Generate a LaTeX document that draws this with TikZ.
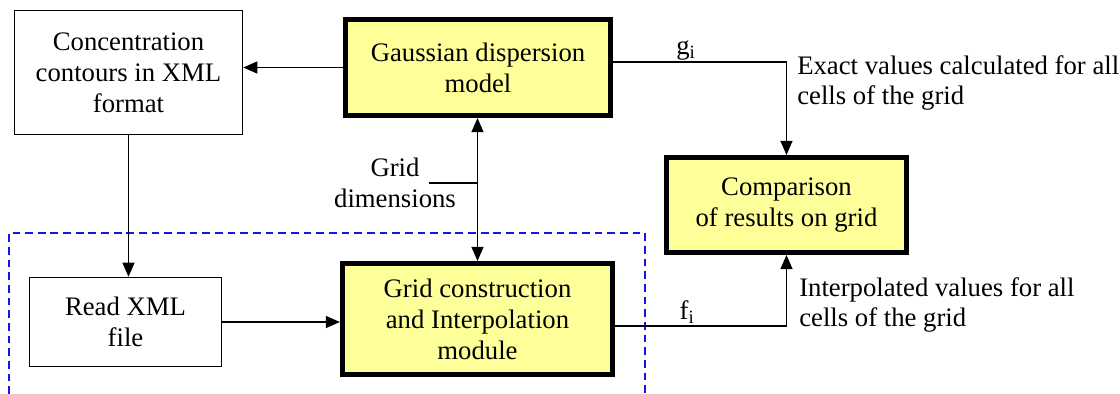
\documentclass[tikz,border=0pt]{standalone}
\usepackage{fontspec}
\setmainfont{Liberation Serif}
\usetikzlibrary{arrows.meta}

\definecolor{modyellow}{RGB}{255,255,153}
\definecolor{zoneblue}{RGB}{20,20,235}

\tikzset{
    plainbox/.style={draw, line width=1pt, fill=white, align=center, inner sep=0pt},
    modbox/.style={draw, line width=3.6pt, fill=modyellow, align=center, inner sep=0pt},
    flow/.style={line width=1pt, -{Triangle[length=10pt, width=8.5pt]}},
    zone/.style={draw=zoneblue, line width=0.9pt, dash pattern=on 5.5pt off 3.5pt}
}

\begin{document}
\begin{tikzpicture}[x=0.025cm, y=-0.025cm, font=\fontsize{19}{22}\selectfont]
    \useasboundingbox (0,0) rectangle (1120,394);
    % interpolation part (dashed frame)
    \draw[zone] (9,394) |- (645,233) -- (645,394);
    % boxes
    \node[plainbox, minimum width=5.7cm, minimum height=3.1cm] (conc) at (128.5,72.5) {Concentration\\contours in XML\\format};
    \node[modbox, minimum width=6.625cm, minimum height=2.4cm] (gauss) at (478,67.5) {Gaussian dispersion\\model};
    \node[modbox, minimum width=6.0cm, minimum height=2.375cm] (comp) at (786.5,205) {Comparison\\of results on grid};
    \node[plainbox, minimum width=4.8cm, minimum height=2.225cm] (readxml) at (125.5,322) {Read XML\\file};
    \node[modbox, minimum width=6.75cm, minimum height=2.775cm] (grid) at (477.5,319) {Grid construction\\and Interpolation\\module};
    % labels
    \node[align=center, inner sep=0pt] (gdim) at (395,183) {Grid\\dimensions};
    \node[anchor=west, align=left, inner sep=0pt] (exact) at (797,83) {Exact values calculated for all\\cells of the grid};
    \node[anchor=west, align=left, inner sep=0pt] (interp) at (799,305) {Interpolated values for all\\cells of the grid};
    \coordinate (gtick) at (429,183);
    % connectors
    \draw[flow] (gauss.west) -- (gauss.west -| conc.east);
    \draw[flow] (conc.south) -- (conc.south |- readxml.north);
    \draw[flow] (readxml.east) -- (readxml.east -| grid.west);
    \draw[flow, {Triangle[length=10pt, width=8.5pt]}-{Triangle[length=10pt, width=8.5pt]}] (grid.north) -- (grid.north |- gauss.south);
    \draw[line width=1pt] (gtick) -- (gtick -| grid.north);
    \draw[flow] ([yshift=0.14cm]gauss.east) -| node[above, pos=0.21, inner sep=1pt] (glabel) {g\textsubscript{i}} (comp.north);
    \draw[flow] ([yshift=-0.175cm]grid.east) -| node[above, pos=0.21, inner sep=1pt] (flabel) {f\textsubscript{i}} (comp.south);
\end{tikzpicture}
\end{document}
